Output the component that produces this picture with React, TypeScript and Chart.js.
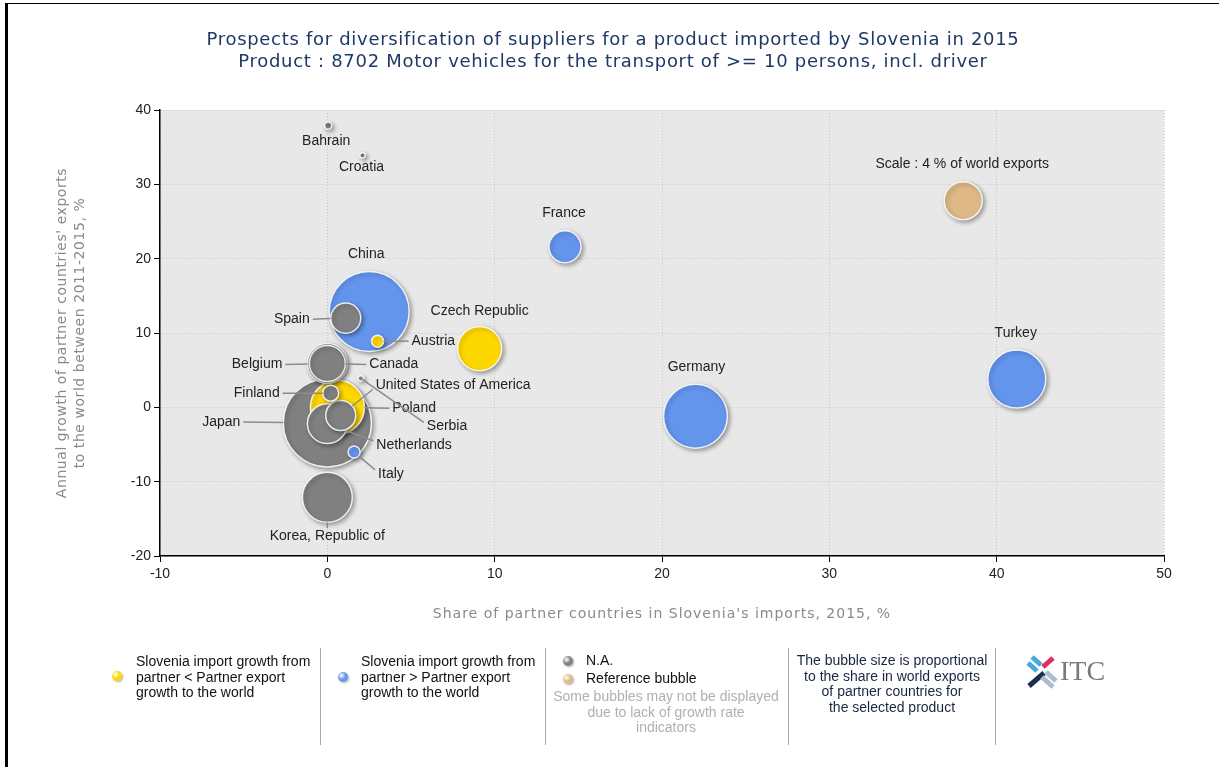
import React, { useEffect, useRef } from 'react';
import { Chart, registerables } from 'chart.js';

Chart.register(...registerables);

// ---------- data ----------
const countries = [
  'Japan', 'China', 'Germany', 'Turkey', 'Poland', 'Korea, Republic of', 'Czech Republic',
  'Belgium', 'Netherlands', 'Canada', 'France', 'Spain', 'United States of America',
  'Finland', 'Austria', 'Italy', 'Bahrain', 'Croatia', 'Serbia',
];
// Share of partner countries in Slovenia's imports, 2015, %
const importShare = [0.0, 2.5, 22.0, 41.2, 0.6, 0.0, 9.1, 0.0, 0.0, 0.0, 14.2, 1.1, 0.8, 0.2, 3.0, 1.6, 0.05, 2.1, 2.0];
// Annual growth of partner countries' exports to the world 2011-2015, %
const exportGrowth = [-2.1, 12.9, -1.2, 3.8, 0.0, -12.1, 7.9, 5.9, -2.2, 5.9, 21.6, 12.0, -1.1, 1.9, 8.9, -6.0, 37.9, 33.9, 3.9];
// Share in world exports, % (bubble size)
const worldExportShare = [21.5, 17.7, 11.3, 9.3, 8.1, 6.9, 5.4, 4.4, 4.4, 3.6, 2.84, 2.5, 2.5, 0.71, 0.4, 0.4, 0.14, 0.08, 0.08];
// lt: Slovenia import growth < partner export growth, gt: >, na: N.A.
const growthCategory = ['na', 'gt', 'gt', 'gt', 'lt', 'na', 'lt', 'na', 'na', 'na', 'gt', 'na', 'na', 'na', 'lt', 'gt', 'na', 'na', 'na'];

const referenceLabel = 'Scale : 4 % of world exports';
const referenceX = 38.0;
const referenceY = 27.8;
const referenceShare = 4;

const xTicks = [-10, 0, 10, 20, 30, 40, 50];
const yTicks = [-20, -10, 0, 10, 20, 30, 40];

const titleLines = [
  'Prospects for diversification of suppliers for a product imported by Slovenia in 2015',
  'Product : 8702 Motor vehicles for the transport of >= 10 persons, incl. driver',
];
const xTitle = "Share of partner countries in Slovenia's imports, 2015, %";
const yTitleLines = ["Annual growth of partner countries' exports", 'to the world between 2011-2015, %'];

// ---------- styling ----------
const COLORS: Record<string, string> = { lt: '#FFD700', gt: '#6495ED', na: '#808080', ref: '#DEB887' };
const REF_RADIUS = 19;
const radiusFor = (share: number) => REF_RADIUS * Math.sqrt(share / referenceShare);

type Lay = { dx: number; dy: number; align: 'left' | 'right' | 'center'; line: boolean };
const labelLayout: Record<string, Lay> = {
  'Japan': { dx: -87, dy: -1, align: 'right', line: true },
  'China': { dx: -3, dy: -57, align: 'center', line: false },
  'Germany': { dx: 1, dy: -49, align: 'center', line: false },
  'Turkey': { dx: -1, dy: -46, align: 'center', line: false },
  'Poland': { dx: 55, dy: 1, align: 'left', line: true },
  'Korea, Republic of': { dx: 0, dy: 39, align: 'center', line: true },
  'Czech Republic': { dx: 0, dy: -37, align: 'center', line: false },
  'Belgium': { dx: -45, dy: 1, align: 'right', line: true },
  'Netherlands': { dx: 49, dy: 21, align: 'left', line: true },
  'Canada': { dx: 42, dy: 1, align: 'left', line: true },
  'France': { dx: -1, dy: -34, align: 'center', line: false },
  'Spain': { dx: -36, dy: 1, align: 'right', line: true },
  'United States of America': { dx: 35, dy: -30, align: 'left', line: true },
  'Finland': { dx: -51, dy: 0, align: 'right', line: true },
  'Austria': { dx: 34, dy: 0, align: 'left', line: true },
  'Italy': { dx: 24, dy: 22, align: 'left', line: true },
  'Bahrain': { dx: -2, dy: 16, align: 'center', line: false },
  'Croatia': { dx: -1, dy: 12, align: 'center', line: false },
  'Serbia': { dx: 66, dy: 48, align: 'left', line: true },
};
const refLayout: Lay = { dx: -1, dy: -37, align: 'center', line: false };

const bgPlugin = {
  id: 'bg',
  beforeDraw(chart: any) {
    const { ctx, chartArea: a } = chart;
    ctx.save();
    ctx.fillStyle = '#E8E8E8';
    ctx.fillRect(a.left, a.top, a.right - a.left, a.bottom - a.top);
    ctx.restore();
  },
};

const shadowPlugin = {
  id: 'shadow',
  beforeDatasetsDraw(chart: any) {
    const ctx = chart.ctx;
    ctx.save();
    ctx.shadowColor = 'rgba(0,0,0,0.35)';
    ctx.shadowBlur = 4;
    ctx.shadowOffsetX = 2;
    ctx.shadowOffsetY = 2;
  },
  afterDatasetsDraw(chart: any) {
    chart.ctx.restore();
  },
};

function drawLabel(ctx: CanvasRenderingContext2D, text: string, x: number, y: number, r: number, lay: Lay) {
  const ax = x + lay.dx;
  const ay = y + lay.dy;
  if (lay.line) {
    let ex = ax, ey = ay;
    if (lay.align === 'left') ex = ax - 3;
    else if (lay.align === 'right') ex = ax + 3;
    else ey = lay.dy > 0 ? ay - 8 : ay + 8;
    if (lay.align === 'left' && lay.dy < -5) ey = ay + 4;
    if (lay.align === 'left' && lay.dy > 5) ey = ay - 4;
    const vx = ex - x, vy = ey - y;
    const len = Math.hypot(vx, vy) || 1;
    const rr = r < 4 ? 0 : r;
    const sx = x + (vx / len) * rr, sy = y + (vy / len) * rr;
    ctx.beginPath();
    ctx.moveTo(sx, sy);
    ctx.lineTo(ex, ey);
    ctx.stroke();
  }
  ctx.textAlign = lay.align;
  ctx.fillText(text, ax, ay);
}

const labelPlugin = {
  id: 'labels',
  afterDatasetsDraw(chart: any) {
    const ctx = chart.ctx as CanvasRenderingContext2D;
    ctx.save();
    ctx.shadowColor = 'transparent';
    ctx.font = '14px "Liberation Sans", Arial, sans-serif';
    ctx.fillStyle = '#222';
    ctx.strokeStyle = '#8c8c8c';
    ctx.lineWidth = 1.5;
    ctx.textBaseline = 'middle';
    chart.getDatasetMeta(0).data.forEach((el: any, i: number) => {
      const name = countries[i];
      drawLabel(ctx, name, el.x, el.y, el.options.radius, labelLayout[name]);
    });
    const refEl = chart.getDatasetMeta(1).data[0];
    drawLabel(ctx, referenceLabel, refEl.x, refEl.y, refEl.options.radius, refLayout);
    ctx.restore();
  },
};

const textPlugin = {
  id: 'texts',
  afterDraw(chart: any) {
    const ctx = chart.ctx as any;
    const a = chart.chartArea;
    ctx.save();
    ctx.textAlign = 'center';
    ctx.textBaseline = 'middle';
    ctx.fillStyle = '#1F3864';
    ctx.font = '18px "DejaVu Sans", Verdana, sans-serif';
    ctx.letterSpacing = '0.7px';
    ctx.fillText(titleLines[0], 613, 40);
    ctx.fillText(titleLines[1], 613, 62);
    ctx.fillStyle = '#8a8a8a';
    ctx.font = '14px "DejaVu Sans", Verdana, sans-serif';
    ctx.letterSpacing = '1px';
    ctx.fillText(xTitle, (a.left + a.right) / 2, 614);
    ctx.letterSpacing = '0.55px';
    ctx.translate(71, (a.top + a.bottom) / 2);
    ctx.rotate(-Math.PI / 2);
    ctx.fillText(yTitleLines[0], 0, -9);
    ctx.fillText(yTitleLines[1], 0, 9);
    ctx.restore();
  },
};

const tickFont = { family: '"Liberation Sans", Arial, sans-serif', size: 14 };

export default function App() {
  const ref = useRef<HTMLCanvasElement>(null);

  useEffect(() => {
    const chart = new Chart(ref.current as HTMLCanvasElement, {
      type: 'bubble',
      data: {
        datasets: [
          {
            data: countries.map((_, i) => ({ x: importShare[i], y: exportGrowth[i], r: radiusFor(worldExportShare[i]) })),
            backgroundColor: growthCategory.map((c) => COLORS[c]),
            borderColor: 'rgba(255,255,255,0.85)',
            borderWidth: 1.5,
          },
          {
            data: [{ x: referenceX, y: referenceY, r: radiusFor(referenceShare) }],
            backgroundColor: COLORS.ref,
            borderColor: 'rgba(255,255,255,0.85)',
            borderWidth: 1.5,
          },
        ],
      } as any,
      options: {
        responsive: false,
        animation: false,
        events: [],
        layout: { padding: { left: 130, top: 110, right: 55, bottom: 181 } },
        plugins: { legend: { display: false }, tooltip: { enabled: false }, title: { display: false } },
        scales: {
          x: {
            type: 'linear',
            min: -10,
            max: 50,
            afterBuildTicks: (s: any) => { s.ticks = xTicks.map((v) => ({ value: v })); },
            afterFit: (s: any) => { s.height = 30; },
            ticks: { color: '#222', font: tickFont, padding: 4 },
            grid: { color: '#c8c8c8', lineWidth: 1, tickColor: '#000', tickLength: 6, tickBorderDash: [] },
            border: { color: '#000', width: 1.5, dash: [1, 2] },
          },
          y: {
            type: 'linear',
            min: -20,
            max: 40,
            afterBuildTicks: (s: any) => { s.ticks = yTicks.map((v) => ({ value: v })); },
            afterFit: (s: any) => { s.width = 30; },
            ticks: { color: '#222', font: tickFont, padding: 3 },
            grid: { color: '#c8c8c8', lineWidth: 1, tickColor: '#000', tickLength: 6, tickBorderDash: [] },
            border: { color: '#000', width: 1.5, dash: [1, 2] },
          },
        },
      } as any,
      plugins: [bgPlugin, shadowPlugin, labelPlugin, textPlugin],
    });
    return () => chart.destroy();
  }, []);

  const legendText: React.CSSProperties = {
    position: 'absolute',
    font: '14px "Liberation Sans", Arial, sans-serif',
    lineHeight: '15.5px',
    color: '#111',
    whiteSpace: 'nowrap',
  };
  const dot = (cx: number, cy: number, color: string): React.CSSProperties => ({
    position: 'absolute',
    left: cx - 5,
    top: cy - 5,
    width: 10,
    height: 10,
    borderRadius: '50%',
    background: `radial-gradient(circle at 35% 35%, #fff 0%, ${color} 45%, ${color} 100%)`,
    boxShadow: '1px 1px 2px rgba(0,0,0,0.35)',
  });
  const sep = (x: number): React.CSSProperties => ({
    position: 'absolute', left: x, top: 648, width: 1, height: 97, background: '#a8a8a8',
  });

  return (
    <div style={{ position: 'fixed', left: 0, top: 0, width: 1219, height: 767, background: '#fff', overflow: 'hidden' }}>
      <canvas ref={ref} width={1219} height={767} style={{ position: 'absolute', left: 0, top: 0, width: 1219, height: 767 }} />
      {/* frame */}
      <div style={{ position: 'absolute', left: 5, top: 3, width: 1214, height: 1, background: '#000' }} />
      <div style={{ position: 'absolute', left: 5, top: 3, width: 2.5, height: 764, background: '#000' }} />
      {/* legend */}
      <div style={dot(117, 676, COLORS.lt)} />
      <div style={{ ...legendText, left: 136, top: 654 }}>
        Slovenia import growth from<br />partner &lt; Partner export<br />growth to the world
      </div>
      <div style={sep(320)} />
      <div style={dot(343, 677, COLORS.gt)} />
      <div style={{ ...legendText, left: 361, top: 654 }}>
        Slovenia import growth from<br />partner &gt; Partner export<br />growth to the world
      </div>
      <div style={sep(545)} />
      <div style={dot(568, 661, COLORS.na)} />
      <div style={{ ...legendText, left: 586, top: 653 }}>N.A.</div>
      <div style={dot(568, 679, COLORS.ref)} />
      <div style={{ ...legendText, left: 586, top: 671 }}>Reference bubble</div>
      <div style={{ ...legendText, left: 546, width: 240, top: 689, textAlign: 'center', color: '#b0b0b0' }}>
        Some bubbles may not be displayed<br />due to lack of growth rate<br />indicators
      </div>
      <div style={sep(788)} />
      <div style={{ ...legendText, left: 789, width: 206, top: 653, textAlign: 'center', color: '#1a2540' }}>
        The bubble size is proportional<br />to the share in world exports<br />of partner countries for<br />the selected product
      </div>
      <div style={sep(995)} />
      <svg style={{ position: 'absolute', left: 1025, top: 653 }} width={90} height={38} viewBox="0 0 90 38">
        <g strokeWidth={5} strokeLinecap="butt">
          <line x1={7} y1={4} x2={16} y2={12} stroke="#49A7DE" />
          <line x1={3} y1={10} x2={12} y2={18} stroke="#49A7DE" />
          <line x1={28} y1={5} x2={18} y2={14} stroke="#E0305A" />
          <line x1={4} y1={33} x2={19} y2={20} stroke="#1C2E4A" />
          <line x1={17} y1={24} x2={28} y2={34} stroke="#A9BCD0" />
          <line x1={21} y1={19} x2={31} y2={28} stroke="#A9BCD0" />
        </g>
        <text x={35} y={27} fontFamily='"Liberation Serif", "DejaVu Serif", serif' fontSize={28} fill="#7a7a7a">ITC</text>
      </svg>
    </div>
  );
}
